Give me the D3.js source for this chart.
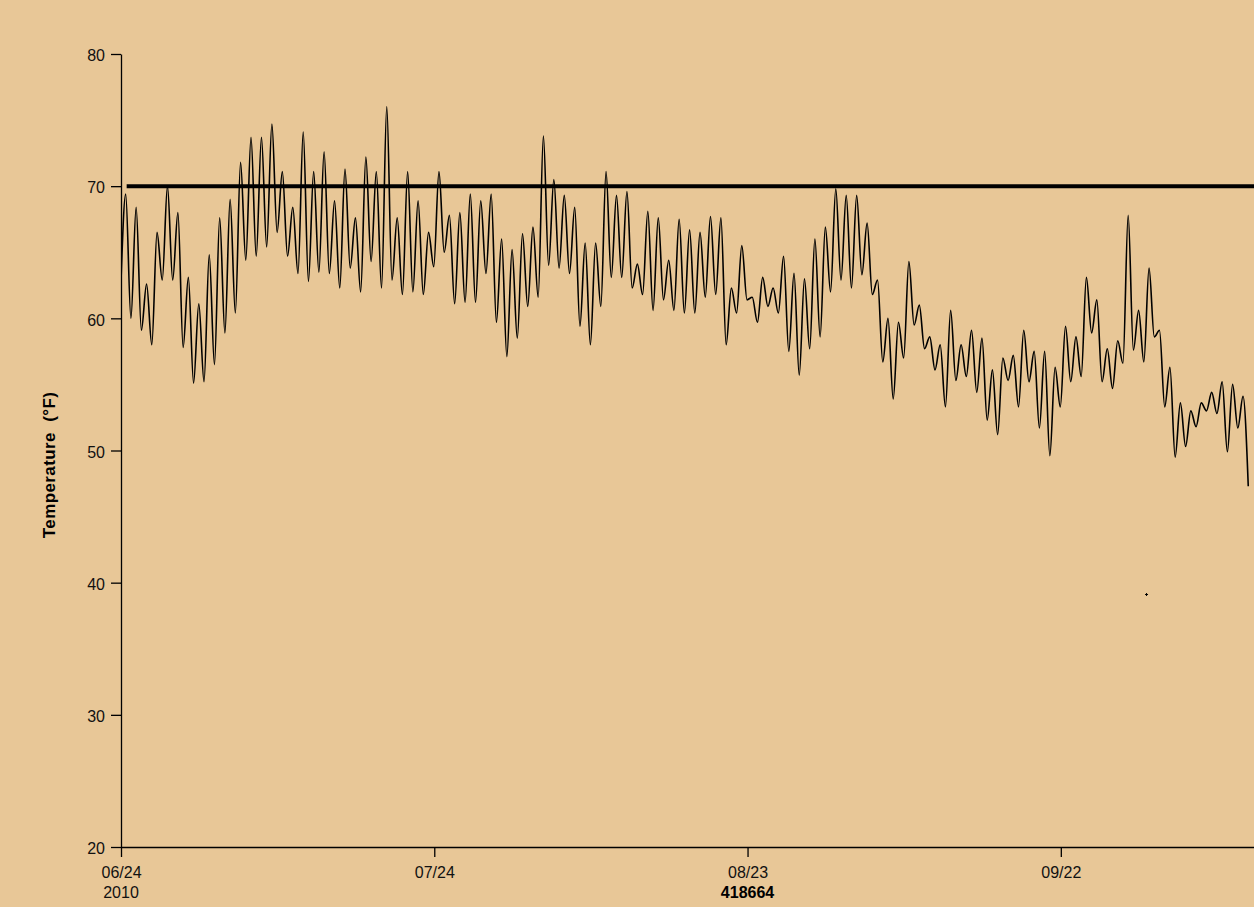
<!DOCTYPE html>
<html><head><meta charset="utf-8">
<script src="https://cdn.jsdelivr.net/npm/d3@7"></script>
<style>
html,body{margin:0;padding:0;background:#E8C797;}
svg{display:block;}
text{font-family:"Liberation Sans",Arial,sans-serif;}
</style>
</head><body>
<svg id="chart" width="1254" height="907"></svg>
<script>
// ---------- data ----------
const startDate = "2010-06-24T00:00";
const endDate = "2010-10-10T12:00";
const firstReading = 62.8;
// daily highs / lows (°F), day 0 = 06/24/2010
const dailyHighs = [69.4,68.4,62.6,66.5,70.0,68.0,63.1,61.1,64.8,67.6,
  69.0,71.8,73.7,73.7,74.7,71.1,68.4,74.1,71.1,72.6,
  68.9,71.3,67.6,72.2,71.1,76.0,67.6,71.1,68.9,66.5,
  71.1,67.8,68.0,69.4,68.9,69.4,66.0,65.2,66.4,66.9,
  73.8,70.5,69.3,68.4,65.7,65.7,71.1,69.3,69.6,64.1,
  68.1,67.6,64.4,67.5,66.7,66.5,67.7,67.6,62.3,65.5,
  61.6,63.1,62.3,64.7,63.4,63.0,66.0,66.9,69.8,69.3,
  69.3,67.2,62.9,60.0,59.7,64.3,61.0,58.6,58.0,60.6,
  58.0,59.1,58.5,56.1,57.0,57.2,59.1,57.5,57.5,56.3,
  59.4,58.6,63.1,61.4,57.7,58.3,67.8,60.6,63.8,59.1,
  56.3,53.6,53.0,53.6,54.4,55.2,55.0,54.1];
const dailyLows = [60.0,59.1,58.0,62.9,62.9,57.8,55.1,55.2,56.5,58.9,
  60.4,64.4,64.7,65.4,66.5,64.7,63.4,62.8,63.5,63.4,
  62.3,63.8,62.0,64.3,62.3,62.9,61.8,62.0,61.8,63.9,
  65.0,61.1,61.2,61.2,63.4,59.7,57.1,58.5,60.9,61.6,
  64.0,63.8,63.4,59.4,58.0,60.9,63.1,63.1,62.3,61.8,
  60.6,61.4,60.6,60.4,60.4,61.6,61.8,58.0,60.4,61.4,
  59.7,60.9,60.4,57.5,55.7,57.7,58.6,62.0,62.9,62.3,
  63.3,61.8,56.7,53.9,57.0,59.5,57.7,56.1,53.3,55.3,
  55.6,54.4,52.3,51.2,55.3,53.3,55.2,51.7,49.6,53.3,
  55.2,55.6,58.9,55.2,54.7,56.6,57.6,56.7,58.6,53.3,
  49.5,50.3,51.8,53.0,52.8,49.9,51.7,47.3];
const thresholdValue = 70;
const thresholdStart = "2010-06-24T13:00";
const outlierDates = ["2010-09-30T05:00"];
const outlierValues = [39.1];
const yTicks = [20,30,40,50,60,70,80];
const xTickDates = ["2010-06-24T00:00","2010-07-24T00:00","2010-08-23T00:00","2010-09-22T00:00"];
const yearLabel = "2010";
const stationLabel = "418664";
const yAxisTitle = "Temperature  (°F)";

// ---------- drawing ----------
const parse = d3.utcParse("%Y-%m-%dT%H:%M");
const t0 = parse(startDate);
const DAY = 86400000;
const svg = d3.select("#chart");
const margin = {left:121, right:1254, top:54, bottom:847};

const x = d3.scaleUtc().domain([t0, parse(endDate)]).range([margin.left, margin.right]);
const y = d3.scaleLinear().domain([20,80]).range([margin.bottom, margin.top]);

const pts = [{t:t0, v:firstReading}];
dailyHighs.forEach((h,i)=>{
  pts.push({t:new Date(+t0 + (i+0.45)*DAY), v:h});
  pts.push({t:new Date(+t0 + (i+0.95)*DAY), v:dailyLows[i]});
});

svg.append("rect").attr("width",1254).attr("height",907).attr("fill","#E8C797");

svg.append("defs").append("clipPath").attr("id","clip")
  .append("rect").attr("x",margin.left).attr("y",0)
  .attr("width",margin.right-margin.left).attr("height",margin.bottom);

// data line
svg.append("path").datum(pts)
  .attr("clip-path","url(#clip)")
  .attr("fill","none").attr("stroke","#000").attr("stroke-width",1.6)
  .attr("d", d3.line().curve(d3.curveMonotoneX).x(d=>x(d.t)).y(d=>y(d.v)));

// threshold line
svg.append("line")
  .attr("x1", x(parse(thresholdStart))).attr("x2", margin.right)
  .attr("y1", y(thresholdValue)).attr("y2", y(thresholdValue))
  .attr("stroke","#000").attr("stroke-width",4);

// outlier point
svg.selectAll(".outl").data(outlierDates).enter().append("path")
  .attr("class","outl")
  .attr("transform",(d,i)=>`translate(${x(parse(d))},${y(outlierValues[i])})`)
  .attr("d","M-1.5,-0.5H-0.5V-1.5H0.5V-0.5H1.5V0.5H0.5V1.5H-0.5V0.5H-1.5Z")
  .attr("fill","#000");

// y axis
const yAxis = svg.append("g").attr("transform",`translate(${margin.left},0)`)
  .call(d3.axisLeft(y).tickValues(yTicks).tickSize(10).tickSizeOuter(0).tickPadding(6));
yAxis.select(".domain").attr("stroke","#000").attr("stroke-width",1.3);
yAxis.selectAll(".tick line").attr("stroke","#000").attr("stroke-width",1.3);
yAxis.selectAll(".tick text").attr("font-size",16).attr("fill","#111")
  .attr("font-family","'Liberation Sans',Arial,sans-serif").attr("dy","0.42em");

// x axis
const fmt = d3.utcFormat("%m/%d");
const xAxis = svg.append("g").attr("transform",`translate(0,${margin.bottom})`)
  .call(d3.axisBottom(x).tickValues(xTickDates.map(parse)).tickFormat(fmt)
    .tickSize(10).tickSizeOuter(0).tickPadding(10));
xAxis.select(".domain").attr("stroke","#000").attr("stroke-width",1.3);
xAxis.selectAll(".tick line").attr("stroke","#000").attr("stroke-width",1.3);
xAxis.selectAll(".tick text").attr("font-size",16).attr("fill","#111")
  .attr("font-family","'Liberation Sans',Arial,sans-serif").attr("dy","0.71em");

svg.append("text").attr("x", x(parse(xTickDates[0]))).attr("y", 897.5)
  .attr("text-anchor","middle").attr("font-size",16).attr("fill","#111").text(yearLabel);
svg.append("text").attr("x", x(parse(xTickDates[2]))).attr("y", 897.5)
  .attr("text-anchor","middle").attr("font-size",16).attr("font-weight","bold")
  .attr("fill","#000").text(stationLabel);

// y title
svg.append("text").attr("transform","translate(55,465) rotate(-90)")
  .attr("text-anchor","middle").attr("font-size",17).attr("font-weight","bold")
  .attr("letter-spacing","0.4px").style("white-space","pre")
  .attr("fill","#000").text(yAxisTitle);
</script>
</body></html>
